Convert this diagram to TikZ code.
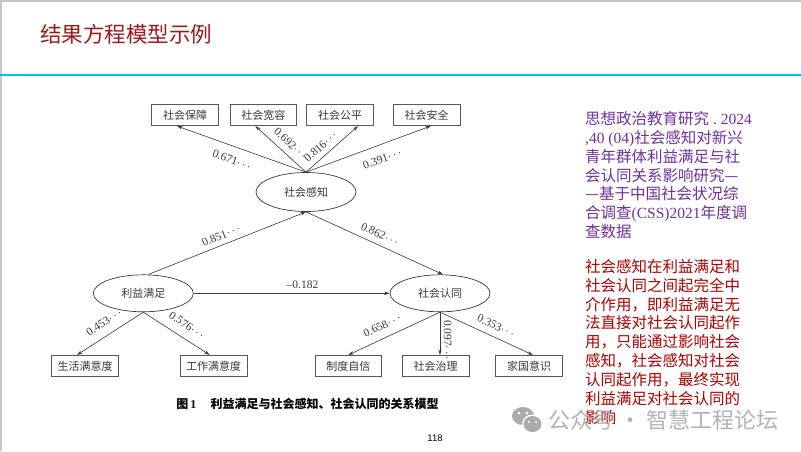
\documentclass[tikz,border=0pt]{standalone}
\usepackage{fontspec}
\setmainfont{Liberation Serif}
\newfontfamily\cjk{Noto Sans CJK SC}
\newfontfamily\lat{Liberation Serif}
\newfontfamily\arialfont{Liberation Sans}
\usetikzlibrary{arrows.meta,shapes.geometric}
\definecolor{titlered}{HTML}{9E1A1A}
\definecolor{rulecyan}{HTML}{00C3F2}
\definecolor{framegray}{HTML}{C6C6C6}
\definecolor{notepurple}{HTML}{7030A0}
\definecolor{notered}{HTML}{B00000}
\definecolor{linegray}{HTML}{3A3A3A}
\definecolor{markgray}{HTML}{ABABAB}

\begin{document}
\begin{tikzpicture}[x=1pt,y=-1pt,
  obs/.style={draw=linegray!85,line width=.7pt,minimum width=66.7pt,minimum height=21.4pt,inner sep=0pt,font=\cjk\fontsize{11}{13}\selectfont,text=linegray},
  latent/.style={ellipse,draw=linegray,line width=.7pt,minimum width=100pt,minimum height=37pt,inner sep=0pt,font=\cjk\fontsize{11}{13}\selectfont,text=linegray},
  arr/.style={-{Stealth[length=5.5pt,width=3.4pt]},draw=linegray,line width=.6pt},
  coef/.style={font=\fontsize{11.5}{13}\selectfont,text=linegray,inner sep=0pt}]
\useasboundingbox (0,0) rectangle (801,451);
\fill[white] (0,0) rectangle (801,451);
\draw[framegray,line width=1.5pt] (0.75,451) -- (0.75,0.75) -- (801,0.75);
\draw[rulecyan,line width=2.8pt] (0,75) -- (801,75);
\node[anchor=west,inner sep=0pt,text=titlered,font=\cjk\fontsize{21.5}{24}\selectfont] (title) at (40,34) {结果方程模型示例};

% observed boxes
\foreach \n/\x/\t in {baozhang/185/社会保障,kuanrong/263.3/社会宽容,gongping/340/社会公平,anquan/426.7/社会安全}
  \node[obs] (\n) at (\x,115) {\t};
\foreach \n/\x/\t in {shenghuo/85/生活满意度,gongzuo/213.7/工作满意度,zhidu/348.3/制度自信,zhili/435.7/社会治理,jiaguo/529/家国意识}
  \node[obs] (\n) at (\x,366) {\t};

% latent ellipses
\node[latent,minimum height=39pt] (ganzhi) at (306,192) {社会感知};
\node[latent] (liyi) at (143.3,293.3) {利益满足};
\node[latent] (rentong) at (440,293.3) {社会认同};

% arrows
\draw[arr] (ganzhi.north) -- ([xshift=-8pt]baozhang.south);
\draw[arr] (ganzhi.north) -- ([xshift=-8pt]kuanrong.south);
\draw[arr] (ganzhi.north) -- ([xshift=18pt]gongping.south);
\draw[arr] (ganzhi.north) -- ([xshift=4pt]anquan.south);
\draw[arr] ([xshift=5pt]liyi.north) -- (ganzhi.south);
\draw[arr] (ganzhi.south) -- ([xshift=3pt]rentong.north);
\draw[arr] (liyi.east) -- (rentong.west);
\draw[arr] (liyi.south) -- ([xshift=-8pt]shenghuo.north);
\draw[arr] (liyi.south) -- ([xshift=-4pt]gongzuo.north);
\draw[arr] (rentong.south) -- (zhidu.north);
\draw[arr] (rentong.south) -- ([xshift=4.3pt]zhili.north);
\draw[arr] (rentong.south) -- ([xshift=4pt]jiaguo.north);

% coefficients
\foreach \n/\x/\y/\a/\t in {a/231.8/159.9/-20/0.671$\cdots$, b/290.4/143.5/-43/0.692$\cdots$,
    c/320.4/146.5/42/0.816$\cdots$, d/382.2/158.9/20/0.391$\cdots$,
    e/221/235.6/22/0.851$\cdots$, f/379.8/234.2/-25/0.862$\cdots$, g/302.5/285/0/--0.182,
    h/103.9/322.3/33.5/0.453$\cdots$, i/186.9/325/-33.5/0.576$\cdots$,
    j/382.1/325.7/25.6/0.658$\cdots$, k/447.5/340/-90/0.097$\cdots$, l/495.9/325.7/-25.3/0.353$\cdots$}
  \node[coef,rotate=\a] (coef\n) at (\x,\y) {\t};

\node[text=black,font=\cjk\bfseries\fontsize{12}{14}\selectfont] (caption) at (307.5,403.5) {图\,{\lat 1}\hspace{1.2em}利益满足与社会感知、社会认同的关系模型};
\node[font=\arialfont\fontsize{9.5}{11}\selectfont] (pagenum) at (435,438.5) {118};

% notes on the right
\node[anchor=north west,align=left,inner sep=0pt,text=notepurple,font=\cjk\fontsize{15.5}{18.9}\selectfont] (source) at (585,111) {思想政治教育研究{\lat~.~2024}\\{\lat ,40 (04)}社会感知对新兴\\青年群体利益满足与社\\会认同关系影响研究—\\—基于中国社会状况综\\合调查{\lat (CSS)2021}年度调\\查数据};
\node[anchor=north west,align=left,inner sep=0pt,text=notered,font=\cjk\fontsize{15.5}{18.9}\selectfont] (finding) at (585,259) {社会感知在利益满足和\\社会认同之间起完全中\\介作用，即利益满足无\\法直接对社会认同起作\\用，只能通过影响社会\\感知，社会感知对社会\\认同起作用，最终实现\\利益满足对社会认同的\\影响};

% watermark
\fill[markgray] (523,416) ellipse (11 and 9);
\fill[white] (532.5,424) ellipse (10.5 and 9.5);
\fill[markgray] (532.5,424) ellipse (9 and 8);
\fill[white] (519,413) circle (1.5) (527,413) circle (1.5) (529,422) circle (1.2) (536,422) circle (1.2);
\node[anchor=west,inner sep=0pt,text=markgray,opacity=.9,font=\cjk\fontsize{22}{24}\selectfont] (mark) at (548,420) {公众号 · 智慧工程论坛};
\end{tikzpicture}
\end{document}
